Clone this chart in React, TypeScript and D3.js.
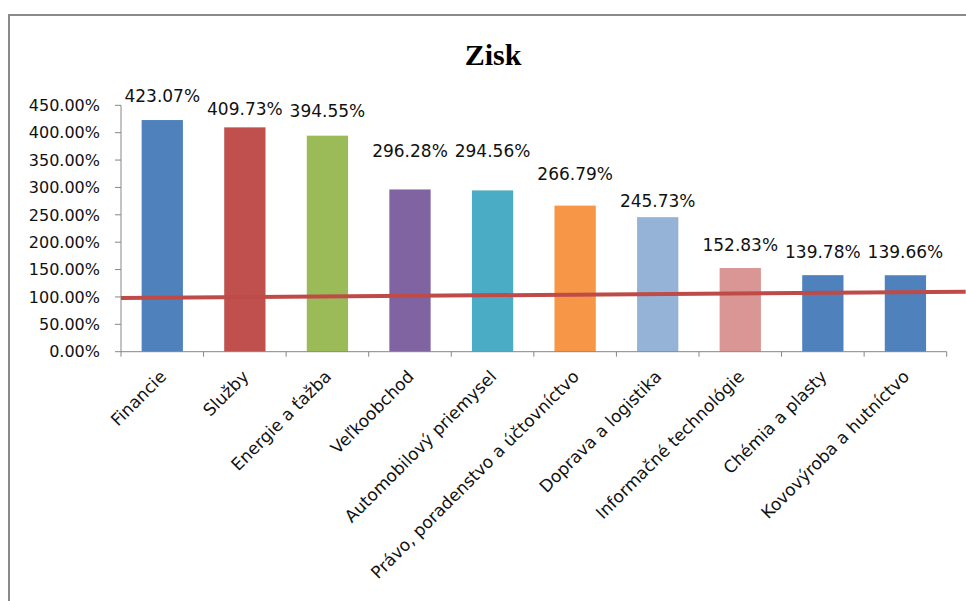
import React from "react";
import * as d3 from "d3";

const categories = [
  "Financie",
  "Služby",
  "Energie a ťažba",
  "Veľkoobchod",
  "Automobilový priemysel",
  "Právo, poradenstvo a účtovníctvo",
  "Doprava a logistika",
  "Informačné technológie",
  "Chémia a plasty",
  "Kovovýroba a hutníctvo",
];
const values = [423.07, 409.73, 394.55, 296.28, 294.56, 266.79, 245.73, 152.83, 139.78, 139.66];
const barColors = ["#4f81bd", "#c0504d", "#9bbb59", "#8064a2", "#4bacc6", "#f79646", "#95b3d7", "#d99694", "#4f81bd", "#4f81bd"];
const yTicks = [0, 50, 100, 150, 200, 250, 300, 350, 400, 450];
// trend line: [category-position (in bands from axis start), value %]
const trendPoints: [number, number][] = [[0, 98], [10.23, 109.6]];
// manual label lift above bar top (px), as placed in the original
const labelLift = [18.3, 12.3, 18.6, 32.8, 33, 25.6, 10, 17, 17.5, 17.5];

const W = 966, H = 601;
const plot = { left: 121, right: 946.7, top: 105.3, bottom: 351.7 };
const FONT = "'DejaVu Sans', sans-serif";

export default function App() {
  const x = d3.scaleBand<string>().domain(categories).range([plot.left, plot.right]).paddingInner(0.5).paddingOuter(0.25);
  const y = d3.scaleLinear().domain([0, 450]).range([plot.bottom, plot.top]);
  const step = x.step();
  const xu = d3.scaleLinear().domain([0, 1]).range([plot.left, plot.left + step]);
  const line = d3.line<[number, number]>().x(d => xu(d[0])).y(d => y(d[1]));
  const fmt = (v: number) => v.toFixed(2) + "%";
  const axisColor = "#868686";
  const tickXs = d3.range(categories.length + 1).map(i => plot.left + i * step);

  return (
    <svg width={W} height={H} style={{ position: "absolute", left: 0, top: 0, background: "#fff" }}>
      <rect x={9} y={15} width={1000} height={700} fill="#fff" stroke="#8a8a8a" strokeWidth={2} />
      <text x={493} y={65} textAnchor="middle" fontFamily="'Liberation Serif', 'Times New Roman', serif" fontWeight="bold" fontSize={30} fill="#000">Zisk</text>

      {/* y axis */}
      <line x1={plot.left} x2={plot.left} y1={plot.top} y2={plot.bottom} stroke={axisColor} strokeWidth={1} />
      {yTicks.map(t => (
        <g key={t}>
          <line x1={plot.left - 6} x2={plot.left} y1={y(t)} y2={y(t)} stroke={axisColor} />
          <text x={100} y={y(t)} dy="0.36em" textAnchor="end" fontFamily={FONT} fontSize={16} fill="#111">{fmt(t)}</text>
        </g>
      ))}

      {/* bars */}
      {categories.map((c, i) => (
        <rect key={c} x={x(c)} y={y(values[i])} width={x.bandwidth()} height={y(0) - y(values[i])} fill={barColors[i]} />
      ))}

      {/* x axis */}
      <line x1={plot.left} x2={plot.right} y1={plot.bottom} y2={plot.bottom} stroke={axisColor} strokeWidth={1} />
      {tickXs.map((tx, i) => (
        <line key={i} x1={tx} x2={tx} y1={plot.bottom} y2={plot.bottom + 5} stroke={axisColor} />
      ))}
      {categories.map(c => {
        const cx = (x(c) as number) + x.bandwidth() / 2;
        return (
          <text key={c} transform={`translate(${cx + 5},${plot.bottom + 26}) rotate(-45)`} textAnchor="end" fontFamily={FONT} fontSize={17} fill="#111">{c}</text>
        );
      })}

      {/* value labels */}
      {categories.map((c, i) => (
        <text key={c} x={(x(c) as number) + x.bandwidth() / 2} y={y(values[i]) - labelLift[i]} textAnchor="middle" fontFamily={FONT} fontSize={17} fill="#111">{fmt(values[i])}</text>
      ))}

      {/* trend line */}
      <path d={line(trendPoints) as string} fill="none" stroke="#be4b48" strokeWidth={4} />
    </svg>
  );
}
